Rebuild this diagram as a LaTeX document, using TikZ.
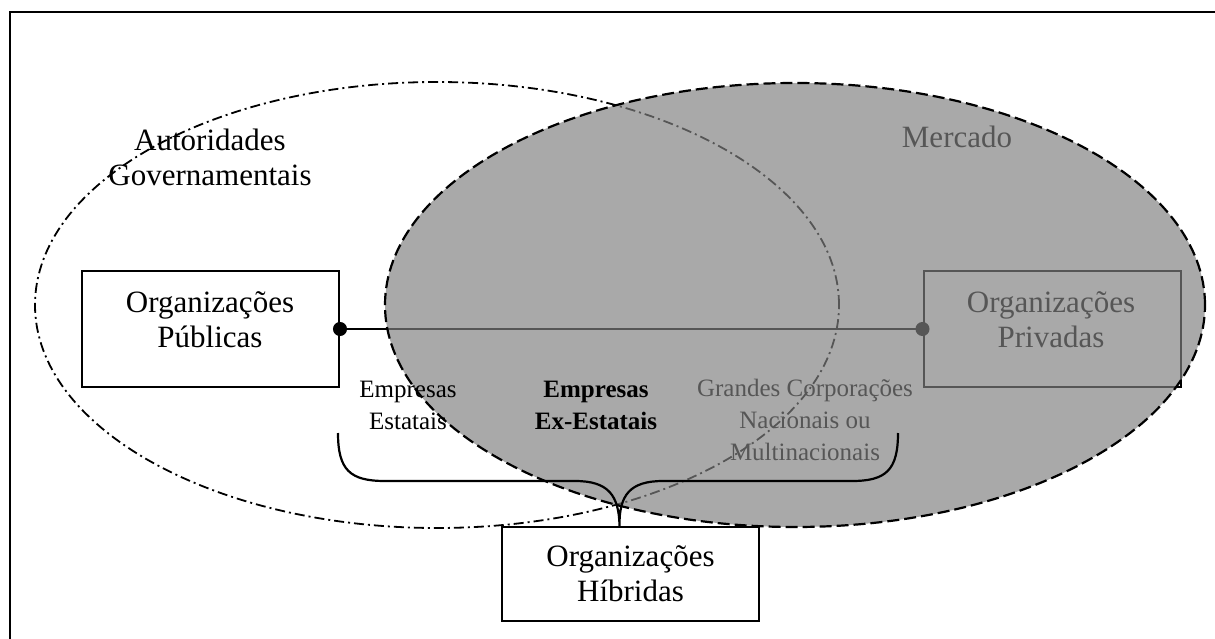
\documentclass[tikz,border=0pt]{standalone}
\usepackage{fontspec}
\setmainfont{Liberation Serif}
\usetikzlibrary{positioning, arrows.meta, calc}

\begin{document}
\begin{tikzpicture}[
      x=1pt, y=-1pt,
      orgbox/.style={draw, line width=2pt, minimum width=257pt, inner sep=0pt},
      biglbl/.style={align=center, font=\fontsize{31}{35}\selectfont, inner sep=0pt},
      smalllbl/.style={align=center, font=\fontsize{25}{32}\selectfont, inner sep=0pt},
      govern/.style={line width=1.8pt, dash pattern=on 10pt off 4pt on 2pt off 4pt},
      market/.style={line width=2.2pt, dash pattern=on 12pt off 5pt, fill=gray, fill opacity=0.68, draw opacity=1},
      link/.style={{Circle[length=14pt]}-{Circle[length=14pt]}, line width=1.8pt, shorten <=-7pt, shorten >=-7pt},
      hbrace/.style={line width=2.2pt}
    ]
      \useasboundingbox (0,0) rectangle (1215,639);
      \clip (0,0) rectangle (1215,639);
      \draw[line width=2.5pt] (10,12) rectangle (1240,660);

      % what lies under the market
      \draw[govern] (437,305) ellipse [x radius=402pt, y radius=223pt];
      \node[biglbl] (gov) at (210,157) {Autoridades\\Governamentais};

      \node[orgbox, minimum height=116pt] (pub) at (210.5,329) {};
      \node[biglbl] (pubtxt) at (210,320) {Organizações\\Públicas};
      \node[orgbox, minimum height=116pt] (priv) at (1052,329) {};
      \node[biglbl] (privtxt) at (1051,320) {Organizações\\Privadas};
      \draw[link] (pub.east) -- (priv.west);

      \node[smalllbl] (corp) at (805,420) {Grandes Corporações\\Nacionais ou\\Multinacionais};
      \node[biglbl] (merc) at (957,137) {Mercado};

      % the market
      \draw[market] (795,305) ellipse [x radius=410pt, y radius=222pt];

      % on top
      \node[smalllbl] (est) at (408,405) {Empresas\\Estatais};
      \node[smalllbl, font=\fontsize{25}{32}\selectfont\bfseries] (exest) at (596,405) {Empresas\\Ex-Estatais};

      \node[orgbox, biglbl, minimum height=94pt] (hyb) at (630.5,574) {Organizações\\Híbridas};
      \coordinate (tip) at ($(hyb.north)+(-11,0)$);
      \coordinate (bl) at (338,433);
      \coordinate (br) at (898,433);
      \draw[hbrace] (bl) .. controls (338,470) and (350,481) .. (385,481) -- (575,481)
        .. controls (608,481) and (619,495) .. (tip)
        .. controls (619,495) and (630,481) .. (663,481) -- (852,481)
        .. controls (886,481) and (898,470) .. (br);
    \end{tikzpicture}
\end{document}
